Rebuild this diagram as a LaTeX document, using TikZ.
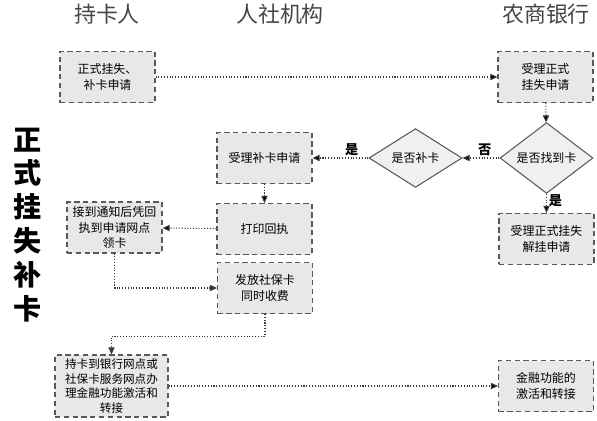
\documentclass[tikz,border=0pt]{standalone}
\usepackage{fontspec}
\setmainfont{Noto Sans CJK SC}
\usetikzlibrary{arrows.meta,shapes.geometric,positioning}

\begin{document}
\begin{tikzpicture}[
    x = 0.02cm, y = -0.02cm, % one unit is one pixel of the page
    > = {Triangle[length=4pt,width=3.5pt]}, % arrow head style
    node distance = 0.38cm, % gap between stacked boxes
    font = \fontsize{6.8}{9}\selectfont,
    semithick % line style
    ]

    \tikzset{box/.style={
    draw = gray!70!black,
    densely dashed,
    fill = gray!18,
    minimum width = 1.9cm,
    minimum height = 1.02cm,
    inner sep = 1pt,
    align = center
    }}
    \tikzset{choice/.style={
    diamond,
    draw = gray!70!black,
    fill = gray!12,
    minimum width = 1.86cm,
    minimum height = 1.0cm,
    inner sep = 0pt
    }}
    \tikzset{head/.style={font=\fontsize{12.5}{14}\selectfont, text=gray!55!black}}
    \tikzset{flow/.style={->, densely dotted, semithick, draw=gray!45!black}}
    \tikzset{lbl/.style={font=\fontsize{7.5}{8}\selectfont\bfseries, text=black, inner sep=1pt}}

    \useasboundingbox (0,0) rectangle (597,420);

    % lane titles
    \node[head] (h1) at (107,14) {持卡人};
    \node[head] (h2) at (280,14) {人社机构};
    \node[head] (h3) at (546,14) {农商银行};
    \node[font=\fontsize{16}{19.3}\selectfont\bfseries, align=center] (tt) at (28,225) {正\\式\\挂\\失\\补\\卡};

    \node[box] (p1) at (107.5,77) {正式挂失、\\补卡申请};
    \node[box] (b1) at (545.5,77) {受理正式\\挂失申请};
    \node[choice] (b2) at (546.5,158) {是否找到卡};
    \node[box] (b3) [below=of b2] {受理正式挂失\\解挂申请};
    \node[choice] (s0) at (415.5,158) {是否补卡};
    \node[box] (s1) at (264.5,158) {受理补卡申请};
    \node[box] (s2) [below=of s1] {打印回执};
    \node[box] (p2) at (114.5,227.5) {接到通知后凭回\\执到申请网点\\领卡};
    \node[box] (s3) at (265,288) {发放社保卡\\同时收费};
    \node[box, minimum width=2.26cm, minimum height=1.24cm, font=\fontsize{6.6}{8.3}\selectfont, inner sep=0pt] (p3) at (111.5,386) {持卡到银行网点或\\社保卡服务网点办\\理金融功能激活和\\转接};
    \node[box] (b4) at (546,386) {金融功能的\\激活和转接};

    \path[flow] (p1) edge (b1);
    \path[flow] (b1) edge (b2);
    \path[flow] (b2) edge node[lbl, above, pos=0.4]{否} (s0);
    \path[flow] (b2) edge node[lbl, right, pos=0.35]{是} (b3);
    \path[flow] (s0) edge node[lbl, above, pos=0.3]{是} (s1);
    \path[flow] (s1) edge (s2);
    \path[flow] (s2) edge (p2);
    \draw[flow] (p2.south) |- (s3.west);
    \draw[flow] (s3.south) -- ++(0,22) -| (p3.north);
    \path[flow] (p3) edge (b4);
\end{tikzpicture}
\end{document}
